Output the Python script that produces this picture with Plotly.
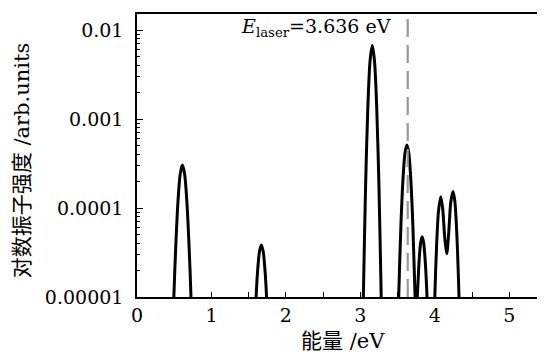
import plotly.graph_objects as go

# Peak curves (energy in eV, oscillator strength in arb. units)
peak1_x = [0.48, 0.495, 0.52, 0.55, 0.58, 0.61, 0.64, 0.67, 0.70, 0.725, 0.74]
peak1_y = [2.5e-6, 1.0e-5, 3.6e-5, 1.17e-4, 2.4e-4, 3.04e-4, 2.4e-4, 1.17e-4, 3.6e-5, 1.0e-5, 2.5e-6]

peak2_x = [1.59, 1.60, 1.62, 1.645, 1.67, 1.695, 1.72, 1.74, 1.75]
peak2_y = [5.6e-6, 1.0e-5, 1.95e-5, 3.24e-5, 3.84e-5, 3.24e-5, 1.95e-5, 1.0e-5, 5.6e-6]

peak3_x = [3.03, 3.04, 3.07, 3.10, 3.13, 3.16, 3.19, 3.22, 3.25, 3.28, 3.29]
peak3_y = [4.0e-6, 1.0e-5, 1.74e-4, 1.32e-3, 4.47e-3, 6.7e-3, 4.47e-3, 1.32e-3, 1.74e-4, 1.0e-5, 4.0e-6]

peak45_x = [3.505, 3.515, 3.545, 3.575, 3.60, 3.625, 3.65, 3.675, 3.705, 3.735, 3.75,
            3.765, 3.79, 3.81, 3.83, 3.85, 3.87, 3.895, 3.905]
peak45_y = [4.0e-6, 1.0e-5, 6.46e-5, 2.29e-4, 4.17e-4, 5.09e-4, 4.17e-4, 2.29e-4, 6.46e-5, 1.0e-5, 6.0e-6,
            1.0e-5, 2.63e-5, 4.07e-5, 4.74e-5, 4.07e-5, 2.63e-5, 1.0e-5, 4.0e-6]

peak6_x = [3.99, 4.00, 4.025, 4.05, 4.08, 4.105, 4.135, 4.16, 4.185, 4.215, 4.245, 4.27, 4.295, 4.31, 4.325, 4.335]
peak6_y = [4.0e-6, 1.0e-5, 3.98e-5, 9.3e-5, 1.34e-4, 1.0e-4, 4.47e-5, 3.06e-5, 5.0e-5, 1.17e-4, 1.53e-4, 1.17e-4, 5.25e-5, 2.5e-5, 1.0e-5, 4.0e-6]

e_laser = 3.636
y_tickvals = [1e-5, 1e-4, 1e-3, 1e-2]
y_ticktext = ["0.00001", "0.0001", "0.001", "0.01"]
x_tickvals = [0, 1, 2, 3, 4, 5]

serif = "DejaVu Serif, Liberation Serif, serif"
cjk = "DejaVu Serif, Noto Sans CJK SC, serif"

xs, ys = [], []
for px, py in [(peak1_x, peak1_y), (peak2_x, peak2_y), (peak3_x, peak3_y),
               (peak45_x, peak45_y), (peak6_x, peak6_y)]:
    xs += px + [None]
    ys += py + [None]

fig = go.Figure()
fig.add_trace(go.Scatter(x=xs, y=ys, mode="lines",
                         line=dict(color="black", width=3, shape="spline", smoothing=0.8),
                         connectgaps=False, showlegend=False, hoverinfo="skip"))

fig.add_shape(type="line", x0=e_laser, x1=e_laser, y0=0, y1=1, xref="x", yref="paper",
              line=dict(color="#999999", width=2.2, dash="18px,8px"), layer="above")

minor_y = [m * 10 ** e for e in (-5, -4, -3, -2) for m in range(2, 10)]

fig.update_layout(
    width=537, height=346,
    margin=dict(l=128.5, r=0, t=5.5, b=57, autoexpand=False),
    paper_bgcolor="white", plot_bgcolor="white",
    xaxis=dict(range=[0, 5.48], showline=True, linecolor="black", linewidth=1.5, mirror=True,
               ticks="inside", ticklen=5, tickcolor="black", tickwidth=1.3,
               tickvals=x_tickvals, ticktext=[str(v) for v in x_tickvals],
               minor=dict(ticks="inside", ticklen=5, tickcolor="black", tickwidth=1.3, dtick=0.5),
               showgrid=False, zeroline=False, automargin=False,
               tickfont=dict(family=serif, size=19, color="black")),
    yaxis=dict(type="log", range=[-5, -1.82], showline=True, linecolor="black", linewidth=1.5,
               ticks="inside", ticklen=6, tickcolor="black", tickwidth=1.3,
               tickvals=y_tickvals, ticktext=y_ticktext,
               minor=dict(ticks="inside", ticklen=3.5, tickcolor="black", tickwidth=1.1, tickvals=minor_y),
               showgrid=False, zeroline=False, ticklabelstandoff=8, automargin=False,
               tickfont=dict(family=serif, size=19, color="black")),
    annotations=[
        dict(text="<i>E</i><sub>laser</sub>=3.636 eV", x=3.437, y=0.952, xref="x", yref="paper",
             xanchor="right", yanchor="middle", showarrow=False,
             font=dict(family=serif, size=19, color="black")),
        dict(text="能量 /eV", x=0.5055, y=-0.155, xref="paper", yref="paper",
             xanchor="center", yanchor="middle", showarrow=False,
             font=dict(family=cjk, size=21, color="black")),
        dict(text="对数振子强度 /arb.units", x=-0.282, y=0.483, xref="paper", yref="paper",
             xanchor="center", yanchor="middle", showarrow=False, textangle=-90,
             font=dict(family=cjk, size=21, color="black")),
    ],
)

fig.write_html("out.html")
